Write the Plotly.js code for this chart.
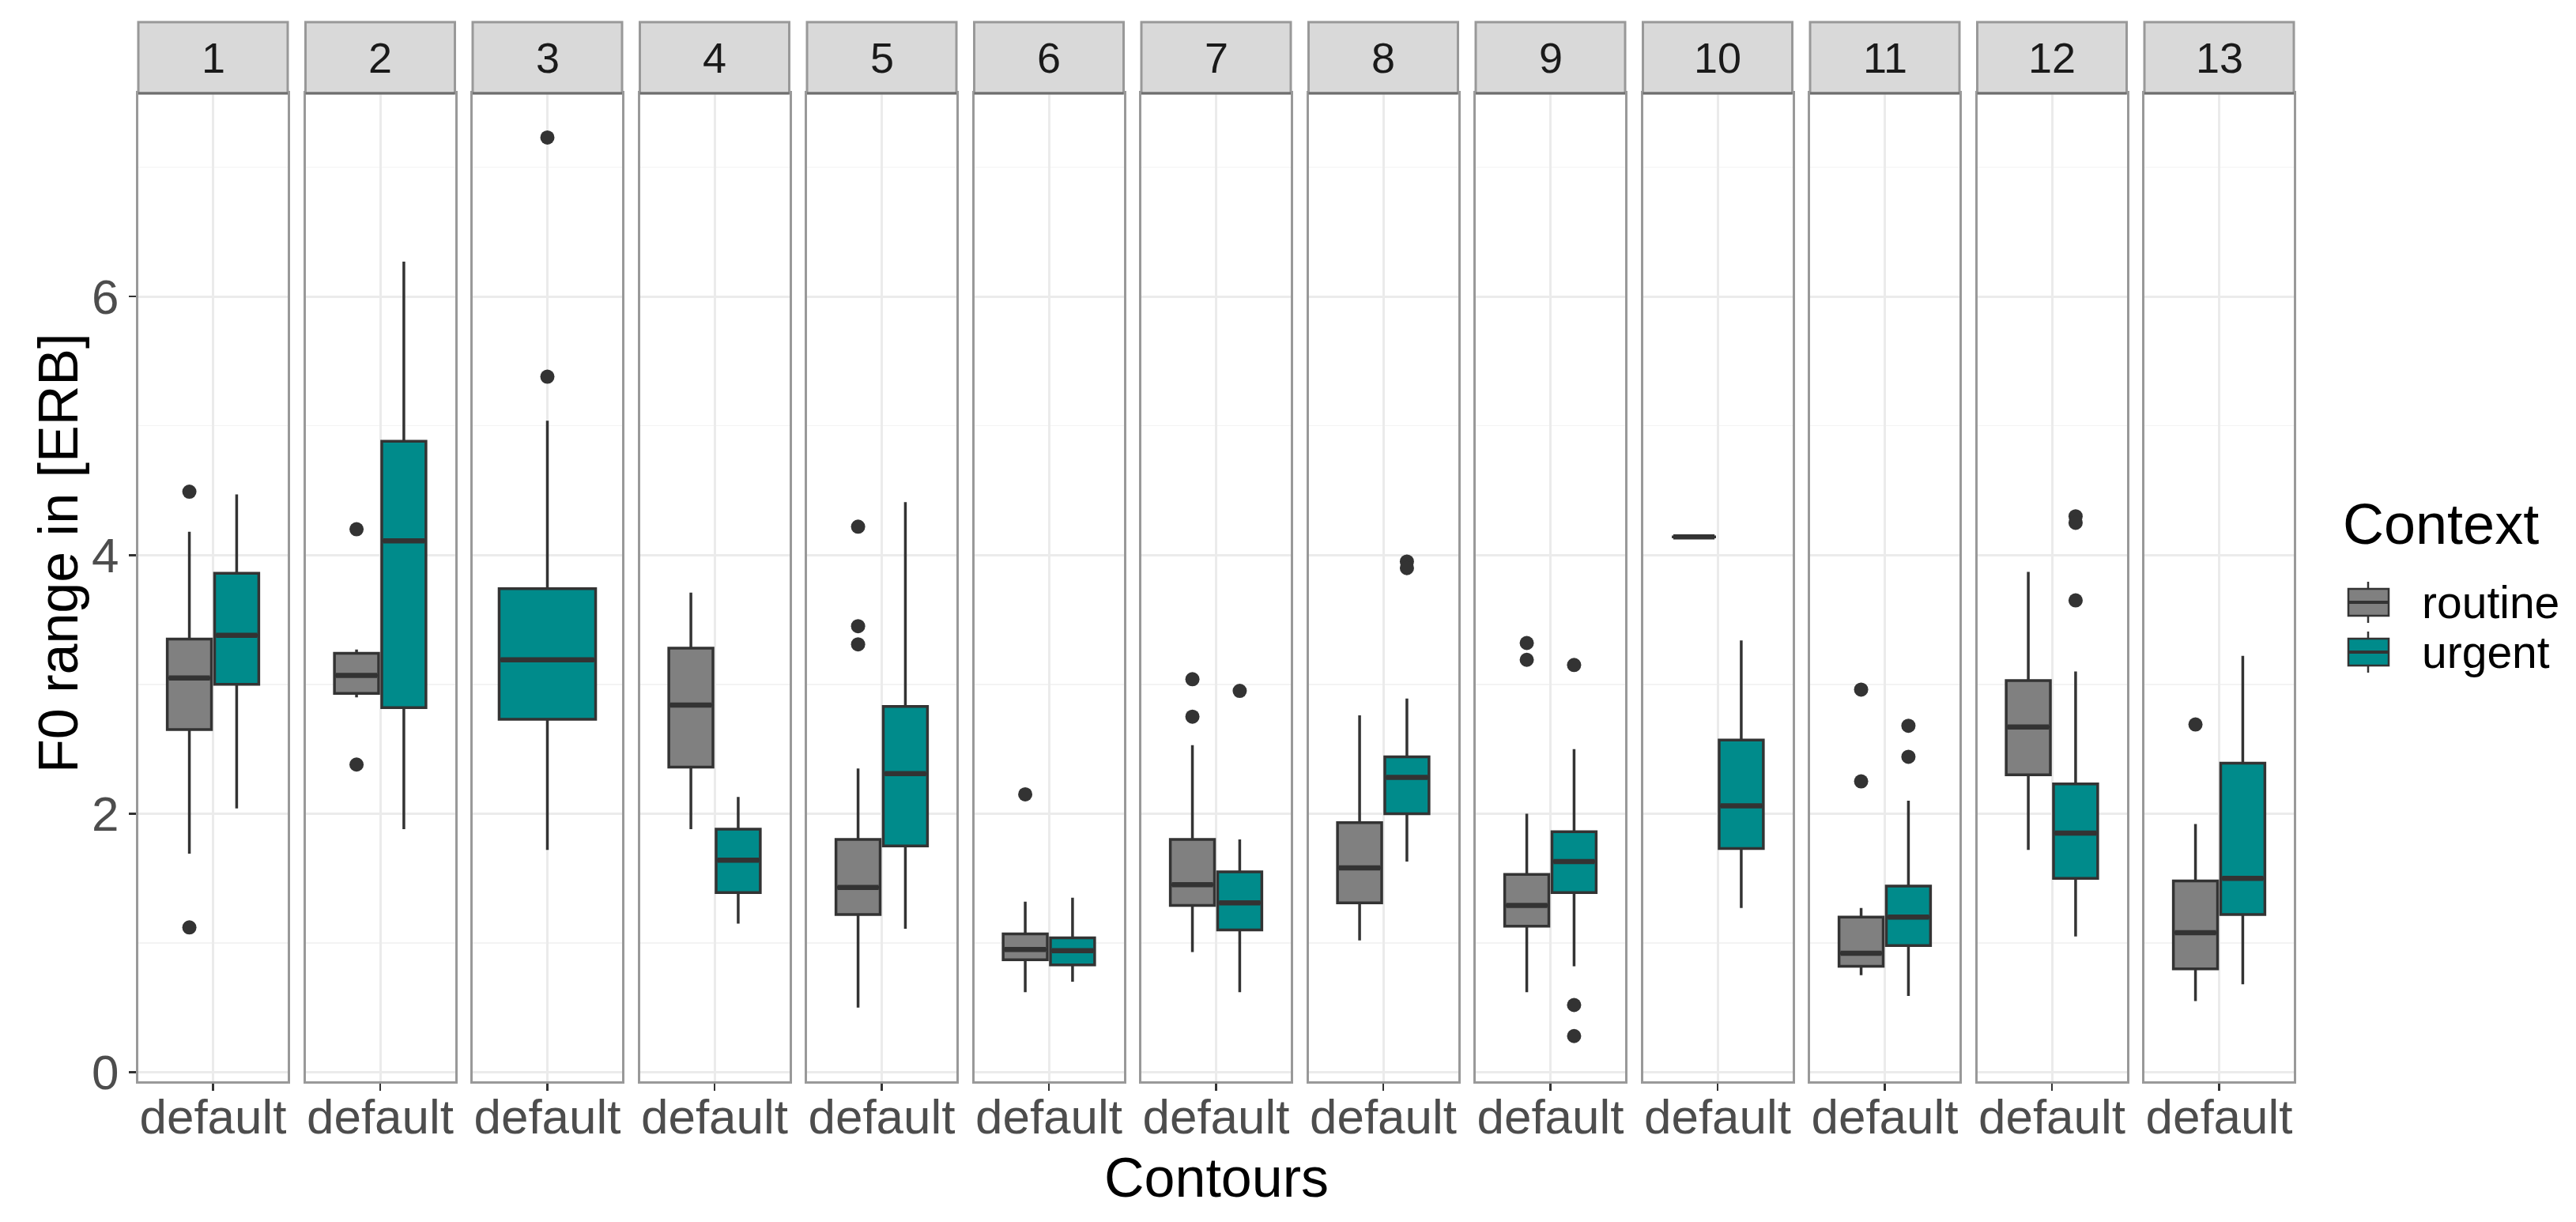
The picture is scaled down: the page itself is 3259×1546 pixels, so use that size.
<!DOCTYPE html>
<html>
<head>
<meta charset="utf-8">
<script src="https://cdn.plot.ly/plotly-3.0.1.min.js"></script>
<style>html,body{margin:0;padding:0;background:#fff;}#chart{width:3259px;height:1546px;}</style>
</head>
<body>
<div id="chart"></div>
<script>
// ---------------- data ----------------
const facets = ['1','2','3','4','5','6','7','8','9','10','11','12','13'];
const contexts = ['routine','urgent'];
const xCategory = ['default'];
const yTicks = [0, 2, 4, 6];
const yMinorTicks = [1, 3, 5, 7];

const routineLow    = [1.69, 2.90, null, 1.88, 0.50, 0.62, 0.93, 1.02, 0.62, 4.14, 0.75, 1.72, 0.55];
const routineQ1     = [2.65, 2.93, null, 2.36, 1.22, 0.87, 1.29, 1.31, 1.13, 4.14, 0.82, 2.30, 0.80];
const routineMedian = [3.05, 3.07, null, 2.84, 1.43, 0.95, 1.45, 1.58, 1.29, 4.14, 0.92, 2.67, 1.08];
const routineQ3     = [3.35, 3.24, null, 3.28, 1.80, 1.07, 1.80, 1.93, 1.53, 4.14, 1.20, 3.03, 1.48];
const routineHigh   = [4.18, 3.27, null, 3.71, 2.35, 1.32, 2.53, 2.76, 2.00, 4.14, 1.27, 3.87, 1.92];
const routineOutliers = [[4.49,1.12],[4.20,2.38],[],[],[4.22,3.45,3.31],[2.15],[3.04,2.75],[],[3.32,3.19],[],[2.96,2.25],[],[2.69]];

const urgentLow    = [2.04, 1.88, 1.72, 1.15, 1.11, 0.70, 0.62, 1.63, 0.82, 1.27, 0.59, 1.05, 0.68];
const urgentQ1     = [3.00, 2.82, 2.73, 1.39, 1.75, 0.83, 1.10, 2.00, 1.39, 1.73, 0.98, 1.50, 1.22];
const urgentMedian = [3.38, 4.11, 3.19, 1.64, 2.31, 0.94, 1.31, 2.28, 1.63, 2.06, 1.20, 1.85, 1.50];
const urgentQ3     = [3.86, 4.88, 3.74, 1.88, 2.83, 1.04, 1.55, 2.44, 1.86, 2.57, 1.44, 2.23, 2.39];
const urgentHigh   = [4.47, 6.27, 5.04, 2.13, 4.41, 1.35, 1.80, 2.89, 2.50, 3.34, 2.10, 3.10, 3.22];
const urgentOutliers = [[],[],[7.23,5.38],[],[],[],[2.95],[3.95,3.90],[3.15,0.52,0.28],[],[2.68,2.44],[4.30,4.25,3.65],[]];

// ---------------- styles ----------------
const W = 3259, H = 1546;
const FONT = 'Liberation Sans, Arial, sans-serif';
const fillColors = {routine: '#808080', urgent: '#008B8B'};
const outlineColor = '#333333';
const borderColor = '#999999';
const gridColor = '#EBEBEB';

const panelLeft0 = 175, panelW = 189, panelPitch = 211.5;
const plotTop = 118, plotBottom = 1368, stripTop = 28;
const yRange = [-0.07, 7.572];
const xRange = [0.4, 1.6];
const dodge = 0.19, boxW = 0.355, singleW = 0.775;

const stats = {
  routine: {low: routineLow, q1: routineQ1, med: routineMedian, q3: routineQ3, high: routineHigh, out: routineOutliers},
  urgent:  {low: urgentLow,  q1: urgentQ1,  med: urgentMedian,  q3: urgentQ3,  high: urgentHigh,  out: urgentOutliers}
};

const traces = [];
const layout = {
  width: W, height: H,
  margin: {l: 0, r: 0, t: 0, b: 0},
  paper_bgcolor: '#ffffff', plot_bgcolor: '#ffffff',
  showlegend: false,
  boxmode: 'overlay',
  font: {family: FONT, color: '#000000'},
  shapes: [], annotations: []
};

const yDom = [1 - plotBottom / H, 1 - plotTop / H];

facets.forEach((f, i) => {
  const sfx = i === 0 ? '' : String(i + 1);
  const xa = 'x' + sfx, ya = 'y' + sfx;
  const left = panelLeft0 + i * panelPitch;
  const xDom = [left / W, (left + panelW) / W];

  layout['xaxis' + sfx] = {
    domain: xDom, anchor: ya, range: xRange, fixedrange: true,
    tickmode: 'array', tickvals: [1], ticktext: xCategory,
    ticks: 'outside', ticklen: 9, tickwidth: 2.5, tickcolor: outlineColor,
    ticklabelstandoff: -20,
    tickfont: {family: FONT, size: 62, color: '#4d4d4d'},
    showgrid: true, gridcolor: gridColor, gridwidth: 3, zeroline: false,
    showline: true, mirror: true, linecolor: borderColor, linewidth: 3
  };
  layout['yaxis' + sfx] = {
    domain: yDom, anchor: xa, range: yRange, fixedrange: true,
    tickmode: 'array', tickvals: yTicks, ticktext: yTicks.map(String),
    showticklabels: i === 0, ticks: i === 0 ? 'outside' : '',
    ticklen: 9, tickwidth: 2.5, tickcolor: outlineColor,
    tickfont: {family: FONT, size: 62, color: '#4d4d4d'},
    showgrid: true, gridcolor: gridColor, gridwidth: 3, zeroline: false,
    minor: {tickmode: 'array', tickvals: yMinorTicks, showgrid: true, gridcolor: '#F3F3F3', gridwidth: 1.5, ticks: ''},
    showline: true, mirror: true, linecolor: borderColor, linewidth: 3
  };

  // strip
  layout.shapes.push({
    type: 'rect', xref: 'paper', yref: 'paper', layer: 'above',
    x0: xDom[0], x1: xDom[1], y0: 1 - plotTop / H, y1: 1 - stripTop / H,
    fillcolor: '#D9D9D9', line: {color: borderColor, width: 3}
  });
  layout.shapes.push({
    type: 'line', xref: 'paper', yref: 'paper', layer: 'above',
    x0: xDom[0], x1: xDom[1], y0: 1 - plotTop / H, y1: 1 - plotTop / H,
    line: {color: '#6e6e6e', width: 3}
  });
  layout.annotations.push({
    xref: 'paper', yref: 'paper', x: (xDom[0] + xDom[1]) / 2, y: 1 - (plotTop + stripTop) / 2 / H,
    xanchor: 'center', yanchor: 'middle', showarrow: false, text: f,
    font: {family: FONT, size: 54, color: '#1a1a1a'}
  });

  const present = contexts.filter(c => stats[c].med[i] !== null);
  present.forEach(c => {
    const s = stats[c];
    let pos = 1, w = singleW;
    if (present.length === 2) { pos = c === 'routine' ? 1 - dodge : 1 + dodge; w = boxW; }
    traces.push({
      type: 'box', name: c, xaxis: xa, yaxis: ya,
      x: [pos], q1: [s.q1[i]], median: [s.med[i]], q3: [s.q3[i]],
      lowerfence: [s.low[i]], upperfence: [s.high[i]],
      width: w, whiskerwidth: 0, boxpoints: false,
      fillcolor: fillColors[c], line: {color: outlineColor, width: 3.5},
      hoverinfo: 'skip', showlegend: false
    });
    // thicker median line (ggplot fatten)
    traces.push({
      type: 'scatter', mode: 'lines', xaxis: xa, yaxis: ya,
      x: [pos - w / 2 + 0.012, pos + w / 2 - 0.012], y: [s.med[i], s.med[i]],
      line: {color: outlineColor, width: 6.5}, hoverinfo: 'skip', showlegend: false
    });
    if (s.out[i].length) {
      traces.push({
        type: 'scatter', mode: 'markers', xaxis: xa, yaxis: ya,
        x: s.out[i].map(() => pos), y: s.out[i],
        marker: {color: outlineColor, size: 18}, hoverinfo: 'skip', showlegend: false
      });
    }
  });
});

// axis titles
const plotsLeft = panelLeft0, plotsRight = panelLeft0 + 12 * panelPitch + panelW;
layout.annotations.push({
  xref: 'paper', yref: 'paper', x: (plotsLeft + plotsRight) / 2 / W, y: 1 - 1490 / H,
  xanchor: 'center', yanchor: 'middle', showarrow: false, text: 'Contours',
  font: {family: FONT, size: 70, color: '#000000'}
});
layout.annotations.push({
  xref: 'paper', yref: 'paper', x: 74 / W, y: 1 - 700 / H, textangle: -90,
  xanchor: 'center', yanchor: 'middle', showarrow: false, text: 'F0 range in [ERB]',
  font: {family: FONT, size: 70, color: '#000000'}
});

// legend (drawn manually, ggplot style)
const px = v => v / W, py = v => 1 - v / H;
layout.annotations.push({
  xref: 'paper', yref: 'paper', x: px(2962), y: py(663), xanchor: 'left', yanchor: 'middle',
  showarrow: false, text: 'Context', font: {family: FONT, size: 72, color: '#000000'}
});
const keyCenters = {routine: 762, urgent: 825};
contexts.forEach(c => {
  const cy = keyCenters[c];
  layout.shapes.push({type: 'line', xref: 'paper', yref: 'paper', x0: px(2996), x1: px(2996), y0: py(cy - 26), y1: py(cy + 26), line: {color: outlineColor, width: 2.5}});
  layout.shapes.push({type: 'rect', xref: 'paper', yref: 'paper', x0: px(2971), x1: px(3022), y0: py(cy - 17), y1: py(cy + 17), fillcolor: fillColors[c], line: {color: outlineColor, width: 2.5}});
  layout.shapes.push({type: 'line', xref: 'paper', yref: 'paper', x0: px(2971), x1: px(3022), y0: py(cy), y1: py(cy), line: {color: outlineColor, width: 4}});
  layout.annotations.push({
    xref: 'paper', yref: 'paper', x: px(3062), y: py(cy), xanchor: 'left', yanchor: 'middle',
    showarrow: false, text: c, font: {family: FONT, size: 57, color: '#000000'}
  });
});

Plotly.newPlot('chart', traces, layout, {staticPlot: true, displayModeBar: false});
</script>
</body>
</html>
